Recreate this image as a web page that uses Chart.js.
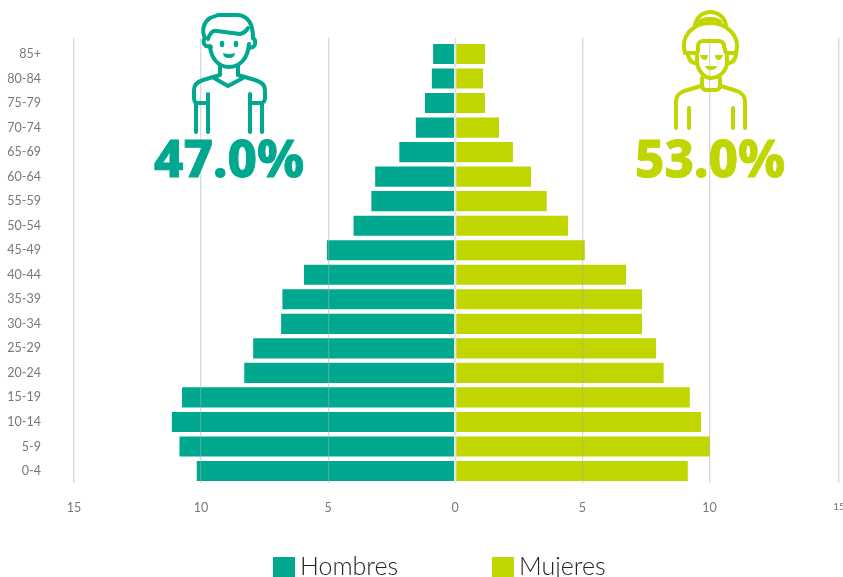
<!DOCTYPE html>
<html lang="es">
<head>
<meta charset="utf-8">
<title>Pirámide de población</title>
<script src="https://cdn.jsdelivr.net/npm/chart.js@4"></script>
<style>
  html, body { margin: 0; padding: 0; background: #fff; overflow: hidden; }
  #wrap { position: relative; width: 843px; height: 577px; overflow: hidden; }
  #chart-box { position: absolute; left: 0; top: 0; width: 851px; height: 577px; }
  #figures { position: absolute; left: 0; top: 0; }
  .line { fill: none; stroke-width: 4; stroke-linecap: round; stroke-linejoin: round; }
  .men .line { stroke: #00a88f; }
  .women .line { stroke: #c1d500; }
  .men .solid { fill: #00a88f; }
  .women .solid { fill: #c1d500; }
  .pct { font: 800 51px "Noto Sans", sans-serif; stroke-width: 0.9; }
  .men .pct { fill: #00a88f; stroke: #00a88f; }
  .women .pct { fill: #c1d500; stroke: #c1d500; }
  .legend { position: absolute; top: 557px; height: 22px; font: 300 25px/22px Lato, sans-serif; color: #2b2220; white-space: nowrap; }
  .legend i { position: absolute; left: 0; top: 0; width: 22px; height: 22px; }
  .legend span { position: absolute; left: 27px; top: -3px; }
</style>
</head>
<body>
<div id="wrap">
  <div id="chart-box"><canvas id="pyramid" width="851" height="577"></canvas></div>
  <svg id="figures" width="843" height="577" viewBox="0 0 843 577">
    <g class="men">
      <path class="line" d="M205 38 C201 30 204 22 210 18 L218 15 L238 15 C248 16 253 24 253 38"/>
      <path class="line" d="M208 39 C210 33 213 30 217 31 L240 34 C244 33 247 30 248 28"/>
      <path class="line" d="M205 38 C203 40 203 44 206 46 L211 47"/>
      <path class="line" d="M253 38 C256 40 256 45 253 47 L249 48"/>
      <path class="line" d="M210 46 C211 58 218 67 229 67 C240 67 248 58 249 44"/>
      <path class="line" d="M220 65 L220 74 M238 65 L238 74"/>
      <path class="line" d="M220 75 L203 80 C197 82 194 85 194 90 L194 98 C194 101 195 102 196 103 L208 103"/>
      <path class="line" d="M238 75 L255 80 C262 82 265 85 265 90 L265 98 C265 101 264 102 262 103 L250 103"/>
      <path class="line" d="M214 78 L228 86 L243 78"/>
      <path class="line" d="M196 103 L196 132 M208 94 L208 132 M250 94 L250 132 M262 103 L262 132"/>
      <ellipse class="solid" cx="222" cy="44" rx="2.3" ry="3.2"/>
      <ellipse class="solid" cx="236" cy="44" rx="2.3" ry="3.2"/>
      <path class="solid" d="M223 53 Q229 55 235 53 Q235 58 229 58 Q223 58 223 53 Z"/>
      <text class="pct" x="154" y="177">47.0%</text>
    </g>
    <g class="women">
      <path class="line" d="M695 25 C697 16 704 12 710 12 C717 12 724 16 726 25"/>
      <path class="line" d="M700 22 C703 18 717 18 720 22"/>
      <path class="line" d="M685 53 C680 36 693 23 710 23 C727 23 741 36 736 53"/>
      <path class="line" d="M685 53 L696 53 C697 53 698 52 698 50 L698 46 C698 43 700 41 703 41 L718 41 C722 41 724 43 724 46 L725 50 C725 52 726 53 728 53 L736 53"/>
      <path class="line" d="M688 55 C689 60 692 63 696 63"/>
      <path class="line" d="M736 55 C735 60 732 63 728 63"/>
      <path class="line" d="M697 55 L697 62 C698 71 704 78 711 78 C719 78 727 71 727 62 L727 55"/>
      <path class="line" d="M702 78 L702 84 C702 88 703 90 706 90 L716 90 C719 90 720 88 720 84 L720 78"/>
      <path class="line" d="M701 86 L684 91 C679 93 676 96 676 101 L676 128"/>
      <path class="line" d="M721 86 L737 91 C742 93 745 96 745 101 L745 128"/>
      <path class="line" d="M689 108 L689 128 M733 108 L733 128"/>
      <path class="solid" d="M700 55 L708 55 Q708 60 704 60 Q701 59 700 55 Z"/>
      <path class="solid" d="M715 55 L723 55 Q722 59 719 60 Q715 60 715 55 Z"/>
      <path class="solid" d="M705 66 L717 66 Q716 70 711 70 Q706 70 705 66 Z"/>
      <text class="pct" x="635" y="177">53.0%</text>
    </g>
  </svg>
  <div class="legend" style="left:273px"><i style="background:#00a88f"></i><span>Hombres</span></div>
  <div class="legend" style="left:492px"><i style="background:#c1d500"></i><span>Mujeres</span></div>
</div>
<script>
// ── Data ──
const ageGroups = ['85+', '80-84', '75-79', '70-74', '65-69', '60-64', '55-59', '50-54', '45-49',
                   '40-44', '35-39', '30-34', '25-29', '20-24', '15-19', '10-14', '5-9', '0-4'];
const hombres = [0.87, 0.92, 1.19, 1.55, 2.2, 3.15, 3.3, 4.0, 5.05,
                 5.95, 6.8, 6.85, 7.95, 8.3, 10.75, 11.15, 10.85, 10.17];
const mujeres = [1.17, 1.09, 1.17, 1.72, 2.27, 2.98, 3.6, 4.44, 5.1,
                 6.72, 7.35, 7.35, 7.9, 8.2, 9.23, 9.67, 10.02, 9.15];
const xTickValues = [-15, -10, -5, 0, 5, 10, 15.1];

const TEAL = '#00a88f';
const LIME = '#c1d500';
const GRID = 'rgba(170,170,170,0.45)';
const TICK = '#7d7675';

const setTicks = axis => { axis.ticks = xTickValues.map(value => ({ value })); };

new Chart(document.getElementById('pyramid'), {
  type: 'bar',
  data: {
    labels: ageGroups,
    datasets: [
      { label: 'Hombres', data: hombres.map(v => -v), backgroundColor: TEAL, xAxisID: 'x' },
      { label: 'Mujeres', data: mujeres, backgroundColor: LIME, xAxisID: 'x' },
    ],
  },
  options: {
    indexAxis: 'y',
    responsive: false,
    animation: false,
    layout: { padding: { top: 38, right: 12, left: 0, bottom: 0 } },
    datasets: { bar: { barPercentage: 0.82, categoryPercentage: 1 } },
    plugins: { legend: { display: false }, tooltip: { enabled: false } },
    scales: {
      x: {
        position: 'bottom',
        stacked: true,
        min: -15,
        max: 15.1,
        afterBuildTicks: setTicks,
        // keep the plot edges fixed, the last label is allowed to run off the page
        afterFit: s => { s.height = 93.7; s.paddingLeft = 0; s.paddingRight = 0; },
        border: { display: false },
        grid: {
          z: 1,
          color: c => (c.tick && c.tick.value === 0 ? '#e4e4e4' : GRID),
          lineWidth: c => (c.tick && c.tick.value === 0 ? 2 : 1.3),
          drawTicks: false,
        },
        ticks: {
          color: TICK,
          padding: 17,
          maxRotation: 0,
          autoSkip: false,
          font: c => ({ family: 'Lato', size: c.tick && c.tick.value > 15 ? 10 : 12.5 }),
          callback: v => Math.round(Math.abs(v)),
        },
      },
      xTop: {
        position: 'top',
        min: -15,
        max: 15.1,
        afterBuildTicks: setTicks,
        afterFit: s => { s.height = 3.7; s.paddingLeft = 0; s.paddingRight = 0; },
        border: { display: false },
        grid: { drawOnChartArea: false, color: GRID, tickLength: 4, lineWidth: 1.3 },
        ticks: { display: false },
      },
      y: {
        stacked: true,
        afterFit: s => { s.width = 74; },
        border: { display: false },
        grid: { display: false, drawTicks: false },
        ticks: {
          color: TICK,
          padding: 33,
          autoSkip: false,
          font: { family: 'Lato', size: 12.5 },
        },
      },
    },
  },
});
</script>
</body>
</html>
